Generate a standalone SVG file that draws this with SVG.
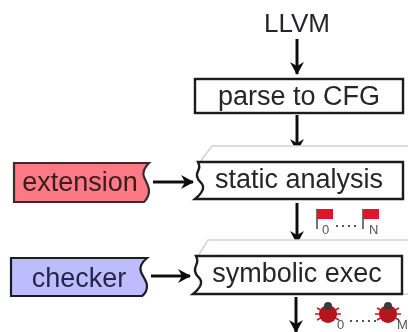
<svg xmlns="http://www.w3.org/2000/svg" width="408" height="332" viewBox="0 0 408 332">
<style>
.t{font-family:"Liberation Sans",Arial,sans-serif;font-size:27px;fill:#26262c;text-anchor:middle}
.s{font-family:"Liberation Sans",Arial,sans-serif;font-size:13px;fill:#555}
.b{fill:#fff;stroke:#1c1c1c;stroke-width:2.4}
.back{fill:#fff;stroke:#d4d4d4;stroke-width:1.6}
.c{fill:none;stroke:#111;stroke-width:3;marker-end:url(#a)}
.flag{fill:#e0182c}
.pole{stroke:#666;stroke-width:1.8}
.bug{fill:#b5121f}
.leg{stroke:#c01a28;stroke-width:1.6}
.head{fill:#3a3a3a}
.dots{stroke:#555;stroke-width:1.8;stroke-dasharray:2 4;fill:none}
</style>
<defs>
<marker id="a" viewBox="0 0 14 14" refX="12" refY="7" markerWidth="14" markerHeight="14" markerUnits="userSpaceOnUse" orient="auto"><path d="M0 0L13 7L0 14L4 7Z" fill="#111"/></marker>
<filter id="soft" filterUnits="userSpaceOnUse" x="0" y="0" width="408" height="332"><feGaussianBlur stdDeviation="0.45"/></filter>
<g id="flagicon"><line class="pole" x1="0" y1="0" x2="0" y2="20"/><path class="flag" d="M0 0H16V10H0Z"/></g>
<g id="bugicon"><path class="leg" d="M-11-6L11 6M-11 6L11-6M-13 0H13"/><circle class="bug" r="9"/><circle class="head" cy="-8" r="4"/></g>
</defs>
<g filter="url(#soft)">
<g id="connectors">
<path class="c" d="M297 39V74"/>
<path class="c" d="M297 115V151"/>
<path class="c" d="M153 182H193"/>
<path class="c" d="M297 203V243"/>
<path class="c" d="M151 276H190"/>
<path class="c" d="M296 297V332"/>
</g>
<g id="llvm"><text class="t" x="297" y="32" style="font-size:26px">LLVM</text></g>
<g id="parse"><rect class="b" x="195" y="79" width="208" height="34"/><text class="t" x="299" y="105">parse to CFG</text></g>
<g id="static">
<path class="back" d="M200 162L212 146H408M403 162V199"/>
<path class="b" d="M198 162H403V199H195C200 195 204 191 203 186C202 182 198 182 197 176C196 170 202 170 198 162Z"/>
<text class="t" x="299" y="188">static analysis</text>
</g>
<g id="symbolic">
<path class="back" d="M198 256L208 240H408M402 256V294H408"/>
<path class="b" d="M196 256H402V294H193C198 290 202 286 201 281C200 277 196 277 195 271C194 265 200 264 196 256Z"/>
<text class="t" x="297" y="282">symbolic exec</text>
</g>
<g id="extension">
<path fill="#fb7a85" stroke="#3a2a2c" stroke-width="2.2" d="M14 163H149C144 168 142 172 144 177C146 182 149 186 149 191C149 196 147 199 144 202H14Z"/>
<text class="t" x="80" y="191" style="fill:#3c1a1e">extension</text>
</g>
<g id="checker">
<path fill="#bcbcff" stroke="#1e1e28" stroke-width="2.2" d="M11 258H147C141 263 139 267 141 272C143 277 147 281 147 286C147 291 145 294 142 296H11Z"/>
<text class="t" x="79" y="287" style="fill:#24264a">checker</text>
</g>
<g id="flags">
<use href="#flagicon" x="317" y="209"/><use href="#flagicon" x="363" y="209"/>
<text class="s" x="322" y="234">0</text><text class="s" x="369" y="234">N</text>
<path class="dots" d="M336 226H360"/>
</g>
<g id="bugs">
<use href="#bugicon" x="328" y="314"/><use href="#bugicon" x="388" y="314"/>
<text class="s" x="337" y="329">0</text><text class="s" x="397" y="329">M</text>
<path class="dots" d="M350 321H376"/>
</g>
</g>
</svg>
